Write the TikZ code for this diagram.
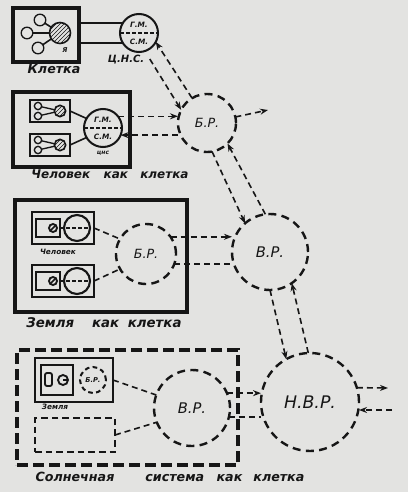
\documentclass[tikz,border=0pt]{standalone}
\usepackage{fontspec}
\setmainfont{DejaVu Sans}
\usetikzlibrary{arrows.meta,patterns}
\definecolor{paper}{HTML}{E3E3E1}
\definecolor{ink}{HTML}{161616}
\tikzset{
  every node/.style={inner sep=0pt, outer sep=0pt},
  lbl/.style={text=ink, font=\bfseries\itshape\fontsize{#1}{#1}\selectfont},
  solidbox/.style={rectangle, draw=ink, line width=#1},
  hcirc/.style={circle, draw=ink, line width=1.2pt, pattern=north east lines, pattern color=ink},
  scirc/.style={circle, draw=ink, line width=1pt},
  ncirc/.style={circle, draw=ink, line width=1.5pt},
  dcirc/.style={circle, draw=ink, line width=1.8pt, dash pattern=on 6pt off 4pt, text=ink, font=\itshape\fontsize{#1}{#1}\selectfont},
  wire/.style={draw=ink, line width=1.2pt},
  flow/.style={draw=ink, line width=1.2pt, dash pattern=on 4.5pt off 3pt},
  arr/.style={-{Stealth[length=6pt,width=4.5pt]}},
  mid/.style={draw=ink, line width=1pt, dash pattern=on 3pt off 1.5pt},
}
\begin{document}
\begin{tikzpicture}[x=0.75pt,y=-0.75pt]
\fill[paper] (0,0) rectangle (408,492);
\useasboundingbox (0,0) rectangle (408,492);

% ---------- Row 1: Клетка ----------
\node[solidbox=2.4pt, minimum width=49.5pt, minimum height=40.5pt] (cell1) at (46,35) {};
\node[hcirc, minimum size=15.75pt] (ya) at (60,33) {};
\node[scirc, minimum size=8.7pt] (s1) at (40,20) {};
\node[scirc, minimum size=8.7pt] (s2) at (27,33) {};
\node[scirc, minimum size=8.7pt] (s3) at (38,48) {};
\draw[wire] (s1) -- (ya);
\draw[wire] (s2) -- (ya);
\draw[wire] (s3) -- (ya);
\node[lbl=5] (yalbl) at (65,50) {Я};
\node[ncirc, minimum size=28.5pt] (cns1) at (139,33) {};
\draw[mid] (cns1.west) -- (cns1.east);
\node[lbl=5.5] (gm1) at (139,25) {Г.М.};
\node[lbl=5.5] (sm1) at (139,42) {С.М.};
\node[lbl=7.5] (cnslbl1) at (126,60) {Ц.Н.С.};
\draw[wire] (cns1.148 -| cell1.east) -- (cns1.148);
\draw[wire] (cns1.212 -| cell1.east) -- (cns1.212);
\node[lbl=9.5] (klet) at (54,69) {Клетка};

% ---------- Row 2: Человек как клетка ----------
\node[solidbox=3pt, minimum width=87.75pt, minimum height=56.25pt] (cell2) at (71.5,129.5) {};
\node[solidbox=1.5pt, minimum width=30pt, minimum height=16.5pt] (ba) at (50,111) {};
\node[solidbox=1.5pt, minimum width=30pt, minimum height=16.5pt] (bb) at (50,145) {};
\node[scirc, minimum size=5.5pt] (ba1) at (38,106) {};
\node[scirc, minimum size=5.5pt] (ba2) at (38,116) {};
\node[hcirc, minimum size=8.5pt] (bah) at (60,111) {};
\draw[wire, line width=1pt] (ba1) -- (bah);
\draw[wire, line width=1pt] (ba2) -- (bah);
\node[scirc, minimum size=5.5pt] (bb1) at (38,140) {};
\node[scirc, minimum size=5.5pt] (bb2) at (38,150) {};
\node[hcirc, minimum size=8.5pt] (bbh) at (60,145) {};
\draw[wire, line width=1pt] (bb1) -- (bbh);
\draw[wire, line width=1pt] (bb2) -- (bbh);
\node[ncirc, minimum size=28.5pt] (cns2) at (103,128) {};
\draw[mid] (cns2.west) -- (cns2.east);
\node[lbl=5.5] (gm2) at (103,120) {Г.М.};
\node[lbl=5.5] (sm2) at (103,137) {С.М.};
\node[lbl=4.5] (cnslbl2) at (103,153) {цнс};
\draw[wire] (ba.east) -- (cns2.150);
\draw[wire] (bb.east) -- (cns2.210);
\node[lbl=9] (chel) at (110,174) {Человек\hspace{7pt} как\hspace{6pt} клетка};

% ---------- Б.Р. (1) ----------
\node[dcirc=9.5, minimum size=43.5pt] (br1) at (207,123) {Б.Р.};
\coordinate (out1) at (268,110);
\draw[flow, arr] (br1.12) -- (out1);
\draw[flow, arr] (br1.121) -- (cns1.-28);
\draw[flow, arr, shorten <=7pt] (cns1.-72) -- (br1.153);
\draw[flow, arr] (cns2.38) -- (cns2.38 -| br1.west);
\draw[flow, arr] (cns2.-22 -| br1.west) -- (cns2.-22);

% ---------- Row 3: Земля как клетка ----------
\node[solidbox=2.4pt, minimum width=129pt, minimum height=84pt] (cell3) at (101,256) {};
\node[solidbox=2pt, minimum width=46.5pt, minimum height=24pt] (bc) at (63,228) {};
\node[solidbox=2pt, minimum width=46.5pt, minimum height=24pt] (bd) at (63,281) {};
\node[solidbox=1.6pt, minimum width=18pt, minimum height=13.5pt] (qc) at (48,228) {};
\node[solidbox=1.6pt, minimum width=18pt, minimum height=13.5pt] (qd) at (48,281) {};
\node[scirc, line width=1.4pt, minimum size=6pt] (oc) at (53,228) {};
\node[scirc, line width=1.4pt, minimum size=6pt] (od) at (53,281) {};
\draw[wire] (oc.225) -- (oc.45);
\draw[wire] (od.225) -- (od.45);
\node[ncirc, line width=1.6pt, minimum size=19.5pt] (rc) at (77,228) {};
\node[ncirc, line width=1.6pt, minimum size=19.5pt] (rd) at (77,281) {};
\draw[mid, line width=1.2pt] (qc.east) -- (rc.east);
\draw[mid, line width=1.2pt] (qd.east) -- (rd.east);
\node[lbl=5.5] (chel3) at (58,252) {Человек};
\node[dcirc=9.5, minimum size=45pt] (br2) at (146,254) {Б.Р.};
\draw[flow] (bc.east) -- (br2.150);
\draw[flow] (bd.east) -- (br2.210);
\node[lbl=10] (zeml) at (104,323) {Земля\hspace{10pt} как\hspace{3pt} клетка};

% ---------- В.Р. (1) ----------
\node[dcirc=11, minimum size=57pt] (vr1) at (270,252) {В.Р.};
\draw[flow, arr] (br1.-80) -- (vr1.131);
\draw[flow, arr] (vr1.97) -- (br1.-45);
\draw[flow, arr] (br2.35) -- (br2.35 -| vr1.west);
\draw[flow] (br2.-20) -- (br2.-20 -| vr1.west);

% ---------- Row 4: Солнечная система как клетка ----------
\node[rectangle, draw=ink, line width=2.4pt, dash pattern=on 8pt off 4pt, minimum width=165.75pt, minimum height=86.25pt] (sol) at (127.5,407.5) {};
\node[solidbox=2pt, minimum width=58.5pt, minimum height=33pt] (zb) at (74,380) {};
\node[solidbox=1.6pt, minimum width=24pt, minimum height=22.5pt] (zq) at (57,380) {};
\node[rectangle, rounded corners=1.5pt, draw=ink, line width=1.4pt, minimum width=5.25pt, minimum height=9.75pt] (zr) at (48.5,379.5) {};
\node[scirc, line width=1.4pt, minimum size=7.5pt] (zo) at (63,380) {};
\draw[wire, line width=1pt] (zo.center) -- (zo.east);
\node[circle, draw=ink, line width=1.5pt, dash pattern=on 3.5pt off 2.5pt, minimum size=19.5pt, lbl=5] (zbr) at (93,380) {Б.Р.};
\node[lbl=5.5] (zemlja) at (55,407) {Земля};
\node[rectangle, draw=ink, line width=1.6pt, dash pattern=on 5pt off 3pt, minimum width=60pt, minimum height=25.5pt] (db) at (75,435) {};
\node[dcirc=11, minimum size=57pt] (vr2) at (192,408) {В.Р.};
\draw[flow] (zb.east) -- (vr2.160);
\draw[flow] (db.east) -- (vr2.202);
\node[lbl=9.5] (solt) at (170,477) {Солнечная\hspace{20pt} система\hspace{6pt} как\hspace{5pt} клетка};

% ---------- Н.В.Р. ----------
\node[dcirc=13, minimum size=73.5pt] (nvr) at (310,402) {Н.В.Р.};
\draw[flow, arr] (vr2.23) -- (vr2.23 -| nvr.west);
\draw[flow] (vr2.-14) -- (vr2.-14 -| nvr.west);
\draw[flow, arr] (vr1.-90) -- (nvr.119);
\draw[flow, arr] (nvr.92) -- (vr1.-55);
\coordinate (out2) at (388,388);
\coordinate (in2) at (392,410);
\draw[flow, arr] (nvr.17) -- (out2);
\draw[flow, arr] (in2) -- (in2 -| nvr.east);
\end{tikzpicture}
\end{document}
